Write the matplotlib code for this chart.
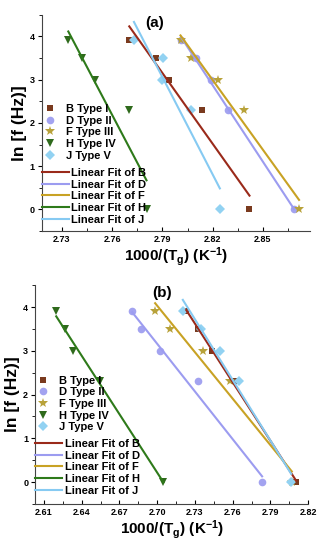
import numpy as np
import matplotlib
matplotlib.use("Agg")
import matplotlib.pyplot as plt
from matplotlib.lines import Line2D
from matplotlib.ticker import MultipleLocator

plt.rcParams['font.family'] = ['Liberation Sans', 'DejaVu Sans']
plt.rcParams['font.weight'] = 'bold'

# ln f values (f = 50, 33, 20, 10, 1 Hz)
ln_f = [3.91, 3.50, 3.00, 2.30, 0.0]

# panel (a): 1000/Tg for each sample
a_B = [2.7702, 2.7861, 2.7941, 2.8137, 2.8420]
a_D = [2.8012, 2.8100, 2.8190, 2.8293, 2.8685]
a_F = [2.8008, 2.8072, 2.8233, 2.8390, 2.8716]
a_H = [2.7338, 2.7419, 2.7495, 2.7700, 2.7805]
a_J = [2.7730, 2.7905, 2.7895, 2.8072, 2.8243]

# panel (b)
b_B = [2.7231, 2.7324, 2.7437, 2.7614, 2.8105]
b_D = [2.6802, 2.6873, 2.7019, 2.7324, 2.7834]
b_F = [2.6984, 2.7106, 2.7368, 2.7575, 2.8070]
b_H = [2.6198, 2.6264, 2.6330, 2.6547, 2.7050]
b_J = [2.7204, 2.7350, 2.7503, 2.7654, 2.8065]

names = ['B', 'D', 'F', 'H', 'J']
types = ['Type I', 'Type II', 'Type III', 'Type IV', 'Type V']
markers = ['s', 'o', '*', 'v', 'D']
msizes = [5, 5.5, 7.5, 6, 5]
mcolors = ['#7a3a1e', '#a3a3f0', '#b8a23a', '#2f6a1c', '#92d2f2']
lcolors = ['#9a2a1a', '#9c9cf0', '#c8a224', '#2e7a1a', '#86caf2']


def draw_panel(ax, xs_list, title, xlim, xticks, title_x, leg1_y, leg2_y):
    for xs, nm, tp, mk, ms, mc in zip(xs_list, names, types, markers, msizes, mcolors):
        ax.plot(xs, ln_f, linestyle='none', marker=mk, ms=ms, color=mc,
                markeredgewidth=0, label=f'{nm} {tp}', zorder=2)
    for xs, nm, lc in zip(xs_list, names, lcolors):
        k, b = np.polyfit(xs, ln_f, 1)
        xx = np.array([min(xs), max(xs)])
        ax.plot(xx, k * xx + b, color=lc, lw=1.5, zorder=3)

    ax.set_xlim(*xlim)
    ax.set_ylim(-0.5, 4.5)
    ax.set_xticks(xticks)
    ax.set_xticklabels([f'{t:.2f}' for t in xticks])
    ax.xaxis.set_minor_locator(MultipleLocator(0.015))
    ax.yaxis.set_major_locator(MultipleLocator(1))
    ax.yaxis.set_minor_locator(MultipleLocator(0.5))
    ax.tick_params(axis='x', which='both', direction='in', labelsize=6.5, pad=3)
    ax.tick_params(axis='x', which='major', length=3)
    ax.tick_params(axis='x', which='minor', length=2)
    ax.tick_params(axis='y', which='both', direction='out', labelsize=6.5, pad=2)
    ax.tick_params(axis='y', which='major', length=3)
    ax.tick_params(axis='y', which='minor', length=2)
    for s in ['top', 'right']:
        ax.spines[s].set_visible(False)
    for s in ['left', 'bottom']:
        ax.spines[s].set_color('#444444')
        ax.spines[s].set_linewidth(0.8)

    ax.set_xlabel(r'1000/(T$\mathregular{_g}$) (K$\mathregular{^{-1}}$)',
                  fontsize=11, fontweight='bold', labelpad=1)
    ax.set_ylabel('ln [f (Hz)]', fontsize=12.5, fontweight='bold', labelpad=2)
    ax.text(title_x, 0.995, title, transform=ax.transAxes, ha='center',
            va='top', fontsize=11, fontweight='bold')

    mh = [Line2D([], [], linestyle='none', marker=mk, ms=ms, color=mc,
                 markeredgewidth=0)
          for mk, ms, mc in zip(markers, msizes, mcolors)]
    ml = [f'{nm} {tp}' for nm, tp in zip(names, types)]
    leg1 = ax.legend(mh, ml, loc='upper left', bbox_to_anchor=(0.01, leg1_y),
                     frameon=False, fontsize=8, handlelength=1.0,
                     handletextpad=0.9, labelspacing=0.15, borderpad=0,
                     borderaxespad=0)
    ax.add_artist(leg1)
    lh = [Line2D([], [], color=lc, lw=1.5) for lc in lcolors]
    ll = [f'Linear Fit of {nm}' for nm in names]
    ax.legend(lh, ll, loc='upper left', bbox_to_anchor=(0.0, leg2_y),
              frameon=False, fontsize=8, handlelength=2.4,
              handletextpad=0.25, labelspacing=0.15, borderpad=0,
              borderaxespad=0)


fig = plt.figure(figsize=(3.22, 5.5), dpi=100)
ax1 = fig.add_axes([0.130, 0.58, 0.832, 0.393])
ax2 = fig.add_axes([0.109, 0.0836, 0.848, 0.398])

draw_panel(ax1, [a_B, a_D, a_F, a_H, a_J], '(a)', (2.718, 2.878),
           [2.73, 2.76, 2.79, 2.82, 2.85], 0.42, 0.588, 0.292)
draw_panel(ax2, [b_B, b_D, b_F, b_H, b_J], '(b)', (2.603, 2.820),
           [2.61, 2.64, 2.67, 2.70, 2.73, 2.76, 2.79, 2.82], 0.464, 0.587, 0.297)

fig.savefig('out.png', dpi=100)
